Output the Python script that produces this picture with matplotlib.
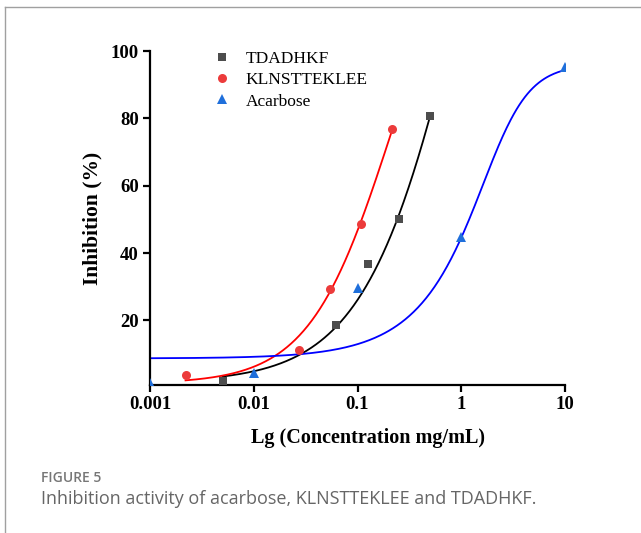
import numpy as np
import matplotlib
matplotlib.use('Agg')
import matplotlib.pyplot as plt
from matplotlib.lines import Line2D

# measured points (concentration mg/mL, inhibition %)
tdadhkf_conc = [0.005, 0.0625, 0.125, 0.25, 0.5]
tdadhkf_inh = [1.9, 18.6, 36.8, 50.2, 80.8]

klns_conc = [0.0022, 0.027, 0.054, 0.108, 0.215]
klns_inh = [3.7, 11.2, 29.4, 48.7, 76.7]

acarbose_conc = [0.001, 0.01, 0.1, 1.0, 10.0]
acarbose_inh = [1.3, 4.3, 29.6, 44.8, 95.3]

# fitted curve parameters: bottom, top, EC50, hill, asymmetry
tdadhkf_fit = (1.5, 250.0, 1.166, 0.9, 1.0)
klns_fit = (1.2, 150.0, 0.211, 1.1, 1.0)
acarbose_fit = (8.7, 96.0, 2.38, 2.17, 0.44)

xticks = [0.001, 0.01, 0.1, 1, 10]
xticklabels = ['0.001', '0.01', '0.1', '1', '10']
yticks = [20, 40, 60, 80, 100]


def logistic(c, p):
    b, t, ec, h, s = p
    return b + (t - b) / (1 + (ec / c) ** h) ** s


serif = ['Liberation Serif', 'DejaVu Serif']

fig = plt.figure(figsize=(6.41, 5.33), dpi=100)
ax = fig.add_axes([150 / 641, 1 - 385 / 533, 415 / 641, 334 / 533])

series = [
    (tdadhkf_conc, tdadhkf_inh, tdadhkf_fit, 'TDADHKF', 's', '#4d4d4d', 'black', 6),
    (klns_conc, klns_inh, klns_fit, 'KLNSTTEKLEE', 'o', '#ec3b3b', '#ff0000', 6.5),
    (acarbose_conc, acarbose_inh, acarbose_fit, 'Acarbose', '^', '#1f6fdb', '#0000ff', 7.5),
]

handles = []
for conc, inh, fit, name, mk, mcol, lcol, ms in series:
    xs = np.logspace(np.log10(conc[0]), np.log10(conc[-1]), 300)
    ax.plot(xs, logistic(xs, fit), color=lcol, lw=1.3, zorder=2)
    h, = ax.plot(conc, inh, linestyle='none', marker=mk, color=mcol, ms=ms,
                 markeredgewidth=0, label=name, zorder=3)
    handles.append(h)

ax.set_xscale('log')
ax.set_xlim(0.001, 10)
ax.set_ylim(0.8, 100)
ax.set_xticks(xticks)
ax.set_xticklabels(xticklabels)
ax.minorticks_off()
ax.set_yticks(yticks)

for sp in ['top', 'right']:
    ax.spines[sp].set_visible(False)
for sp in ['left', 'bottom']:
    ax.spines[sp].set_linewidth(1.6)
ax.tick_params(direction='out', length=5, width=1.6, pad=3)
for lab in ax.get_xticklabels() + ax.get_yticklabels():
    lab.set_family(serif)
    lab.set_fontweight('bold')
    lab.set_fontsize(13.5)

ax.set_xlabel('Lg (Concentration mg/mL)', family=serif, fontweight='bold',
              fontsize=14.5)
ax.xaxis.set_label_coords(0.525, -0.13)
ax.set_ylabel('Inhibition (%)', family=serif, fontweight='bold',
              fontsize=15.5, labelpad=6)

ax.legend(handles=handles, loc='upper left', bbox_to_anchor=(0.131, 1.027),
          frameon=False, borderpad=0, handlelength=1.0, handletextpad=0.88,
          labelspacing=0.3, prop={'family': serif, 'size': 12.5})

# card border + caption
fig.add_artist(Line2D([5 / 641, 1], [1 - 7 / 533, 1 - 7 / 533], color='#a0a0a0', lw=1))
fig.add_artist(Line2D([5 / 641, 5 / 641], [0, 1 - 7 / 533], color='#a0a0a0', lw=1))
fig.text(41 / 641, 1 - 478 / 533, 'FIGURE 5', color='#777777', fontsize=10,
         family='Open Sans', fontweight='semibold', va='center')
fig.text(41 / 641, 1 - 499 / 533, 'Inhibition activity of acarbose, KLNSTTEKLEE and TDADHKF.',
         color='#666666', fontsize=13, family='Open Sans', va='center')

fig.savefig('out.png', dpi=100)
